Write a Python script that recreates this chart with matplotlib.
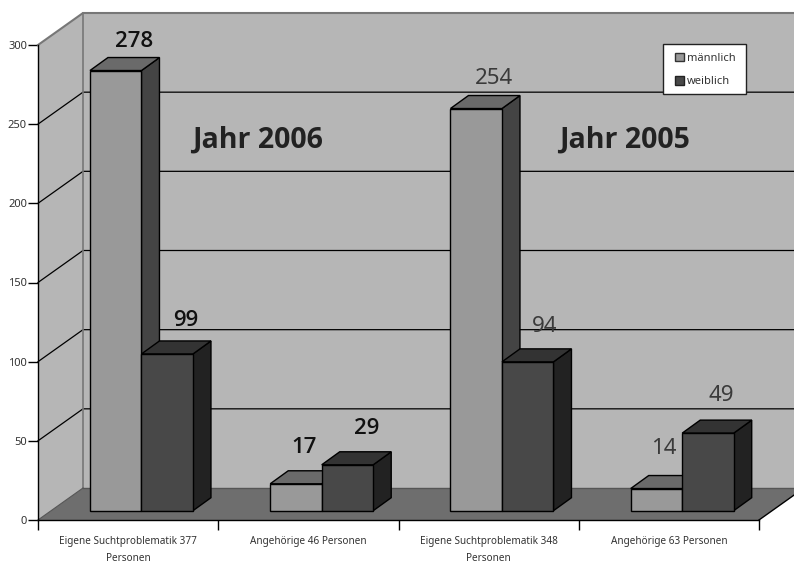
import matplotlib
matplotlib.use('Agg')
import matplotlib.pyplot as plt
from matplotlib.patches import Polygon, Patch, Rectangle

plt.rcParams['font.family'] = ['Noto Sans', 'DejaVu Sans']

# data
categories = ['Eigene Suchtproblematik 377\nPersonen', 'Angehörige 46 Personen',
              'Eigene Suchtproblematik 348\nPersonen', 'Angehörige 63 Personen']
maennlich = [278, 17, 254, 14]
weiblich = [99, 29, 94, 49]
yticks = [0, 50, 100, 150, 200, 250, 300]

W, H = 794, 563
X0, X1, Y0, Y1 = 38, 759, 520, 45  # axes box in pixels
sx = (X1 - X0) / len(categories)   # pixels per category
sy = (Y0 - Y1) / 300               # pixels per unit

# depth of the fake 3d box, data units
wall_dx, wall_dy = 45 / sx, 32 / sy
front_dx, front_dy = 12.8 / sx, 9.3 / sy
bar_dx, bar_dy = 18 / sx, 13 / sy
bar_w = 51.5 / sx

fig = plt.figure(figsize=(W / 100, H / 100), dpi=100)
ax = fig.add_axes([X0 / W, 1 - Y0 / H, (X1 - X0) / W, (Y0 - Y1) / H])
ax.set_xlim(0, len(categories))
ax.set_ylim(0, 300)
ax.patch.set_visible(False)

def poly(pts, color, ec='none', lw=1.0, z=1):
    ax.add_patch(Polygon(pts, closed=True, fc=color, ec=ec, lw=lw, zorder=z,
                         clip_on=False, joinstyle='miter'))

xr = len(categories)
# walls and floor
poly([(wall_dx, wall_dy), (xr + wall_dx, wall_dy), (xr + wall_dx, 300 + wall_dy), (wall_dx, 300 + wall_dy)], '#b6b6b6', z=1)
poly([(0, 0), (wall_dx, wall_dy), (wall_dx, 300 + wall_dy), (0, 300)], '#b6b6b6', z=1)
poly([(0, 0), (xr, 0), (xr + wall_dx, wall_dy), (wall_dx, wall_dy)], '#6e6e6e', z=2)

# grid lines
for v in yticks[1:]:
    color = '#777777' if v == 300 else 'black'
    lw = 1.5 if v == 300 else 0.9
    ax.plot([0, wall_dx, xr + wall_dx], [v, v + wall_dy, v + wall_dy], color=color, lw=lw,
            clip_on=False, zorder=3, solid_joinstyle='miter')
ax.plot([wall_dx, wall_dx], [wall_dy, 300 + wall_dy], color='#777777', lw=1.2, clip_on=False, zorder=3)
ax.plot([0, wall_dx], [0, wall_dy], color='#555555', lw=0.8, clip_on=False, zorder=3)
ax.plot([wall_dx, xr + wall_dx], [wall_dy, wall_dy], color='#555555', lw=1.0, clip_on=False, zorder=3)
ax.plot([xr, xr + wall_dx], [0, wall_dy], color='black', lw=1.0, clip_on=False, zorder=3)

def bar3d(x, v, front, top, side, z):
    xl = x + front_dx
    xr_ = xl + bar_w
    b = front_dy
    t = front_dy + v
    poly([(xr_, b), (xr_ + bar_dx, b + bar_dy), (xr_ + bar_dx, t + bar_dy), (xr_, t)], side, 'black', 1.0, z)
    poly([(xl, t), (xr_, t), (xr_ + bar_dx, t + bar_dy), (xl + bar_dx, t + bar_dy)], top, 'black', 1.0, z)
    poly([(xl, b), (xr_, b), (xr_, t), (xl, t)], front, 'black', 1.0, z + 0.1)

for i in range(len(categories)):
    c = i + 0.503
    bar3d(c - bar_w, maennlich[i], '#999999', '#6a6a6a', '#444444', 4 + i)
    bar3d(c, weiblich[i], '#484848', '#333333', '#222222', 4.5 + i)

# data labels: (px right of bar middle, px above bar top)
offs_m = [(18, 29), (8, 36), (18, 30), (7, 40)]
offs_w = [(19, 33), (19, 36), (17, 35), (13, 38)]
for i in range(len(categories)):
    c = i + 0.503
    fam = ['Open Sans', 'DejaVu Sans'] if i < 2 else ['Noto Sans', 'DejaVu Sans']
    weight = 'semibold' if i < 2 else 'light'
    tc = '#111111' if i < 2 else '#3a3a3a'
    for x, v, (ox, oy) in [(c - bar_w / 2, maennlich[i], offs_m[i]), (c + bar_w / 2, weiblich[i], offs_w[i])]:
        ax.text(x + front_dx + ox / sx, v + front_dy + oy / sy, str(v), ha='center', va='center',
                fontsize=16, color=tc, fontweight=weight, family=fam, zorder=20)

ax.text(1.22, 240, 'Jahr 2006', fontsize=20.5, fontweight='bold', color='#222222',
        family=['Open Sans', 'DejaVu Sans'], ha='center', va='center', zorder=3)
ax.text(3.255, 240, 'Jahr 2005', fontsize=20.5, fontweight='bold', color='#222222',
        family=['Open Sans', 'DejaVu Sans'], ha='center', va='center', zorder=3)

# axes
for s in ['top', 'right']:
    ax.spines[s].set_visible(False)
for s in ['left', 'bottom']:
    ax.spines[s].set_linewidth(1.0)
    ax.spines[s].set_zorder(3)
ax.set_yticks(yticks)
ax.set_xticks(range(len(categories) + 1))
ax.set_xticklabels([])
ax.set_xticks([i + 0.5 for i in range(len(categories))], minor=True)
ax.set_xticklabels(categories, minor=True, fontsize=7.2, color='#333333', linespacing=1.7, va='top')
ax.tick_params(axis='x', which='minor', length=0, pad=11.5)
ax.tick_params(axis='x', which='major', length=7, width=1)
ax.tick_params(axis='y', length=7, width=1, labelsize=8, labelcolor='#333333', pad=1)

# legend box, drawn apart so its padding can differ per side
ax.add_patch(Rectangle(((663 - X0) / sx, (Y0 - 94) / sy), 83 / sx, 50 / sy, fc='white', ec='#222222', lw=1,
                       zorder=29, clip_on=False))
handles = [Patch(fc='#999999', ec='#333333', label='männlich'), Patch(fc='#484848', ec='#222222', label='weiblich')]
leg = ax.legend(handles=handles, loc='upper left', bbox_to_anchor=((675 - X0) / (X1 - X0), (Y0 - 52.5) / (Y0 - Y1)),
                fontsize=8, frameon=False, handlelength=0.8, handleheight=0.8, handletextpad=0.25,
                labelspacing=1.15, borderpad=0, borderaxespad=0, labelcolor='#333333')
leg.set_zorder(30)

fig.savefig('out.png', dpi=100)
